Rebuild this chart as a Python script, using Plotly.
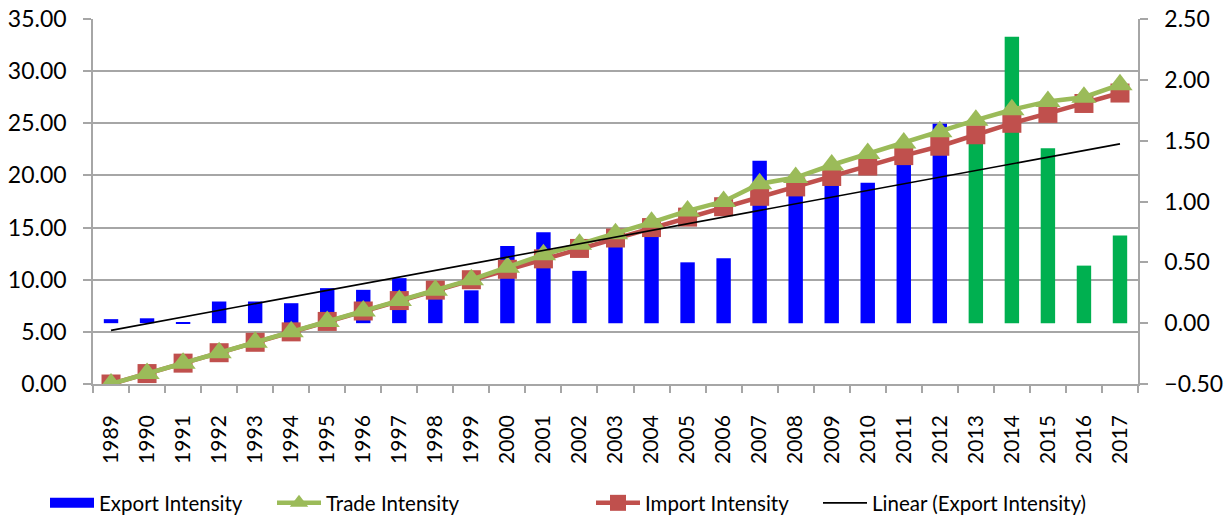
import numpy as np
import plotly.graph_objects as go

# ---- data -------------------------------------------------------------
years = [str(y) for y in range(1989, 2018)]

export_intensity = [0.033, 0.040, 0.005, 0.178, 0.178, 0.164, 0.288, 0.274, 0.370,
                    0.220, 0.270, 0.635, 0.748, 0.430, 0.650, 0.720, 0.500, 0.534,
                    1.334, 1.080, 1.150, 1.155, 1.330, 1.640, 1.600, 2.355, 1.438,
                    0.473, 0.720]

trade_intensity = [0.0, 1.0, 2.0, 3.0, 4.0, 5.0, 6.0, 7.0, 8.0, 9.0, 10.0,
                   11.2, 12.4, 13.4, 14.4, 15.5, 16.6, 17.5, 19.2, 19.8, 21.0,
                   22.1, 23.1, 24.2, 25.3, 26.3, 27.1, 27.5, 28.7]

import_intensity = [0.0, 1.0, 2.0, 3.0, 4.0, 5.0, 6.0, 7.0, 8.0, 9.0, 10.0,
                    11.0, 12.0, 13.0, 14.0, 15.0, 16.0, 17.0, 18.0, 18.9, 19.9,
                    20.9, 21.9, 22.8, 23.9, 25.0, 25.95, 26.9, 27.9]

left_ticks = [0, 5, 10, 15, 20, 25, 30, 35]
right_ticks = [-0.5, 0.0, 0.5, 1.0, 1.5, 2.0, 2.5]

# ---- styles -----------------------------------------------------------
BLUE = "#0000FF"
GREEN_BAR = "#00B050"
TRADE_GREEN = "#9BBB59"
IMPORT_RED = "#C0504D"
GRID = "#A6A6A6"
FAMILY = "Lato, 'Open Sans', sans-serif"
TICK_FONT = dict(family=FAMILY, size=23, color="#000000")
XTICK_FONT = dict(family=FAMILY, size=21, color="#000000")
LEGEND_FONT = dict(family=FAMILY, size=20.5, color="#000000")

W, H = 1228, 519

# bars after 2012 are highlighted in green
bar_colors = [BLUE if int(y) <= 2012 else GREEN_BAR for y in years]

# least-squares linear trend of the export series
idx = np.arange(len(years))
slope, intercept = np.polyfit(idx, export_intensity, 1)
export_trend = slope * idx + intercept

fig = go.Figure()

# legend swatch for the export bars (drawn as a thick line segment)
fig.add_trace(go.Scatter(
    x=[None], y=[None], mode="lines", yaxis="y",
    line=dict(color=BLUE, width=13),
    name="Export Intensity", legend="legend", hoverinfo="skip",
))

fig.add_trace(go.Bar(
    x=years, y=export_intensity, yaxis="y2",
    marker=dict(color=bar_colors, line=dict(width=0)),
    name="Export Intensity", showlegend=False,
))

fig.add_trace(go.Scatter(
    x=years, y=import_intensity, yaxis="y3", mode="lines+markers",
    line=dict(color=IMPORT_RED, width=4.5),
    marker=dict(symbol="square", size=19, color=IMPORT_RED),
    name="Import Intensity", legend="legend3",
))

fig.add_trace(go.Scatter(
    x=years, y=trade_intensity, yaxis="y3", mode="lines+markers",
    line=dict(color=TRADE_GREEN, width=4.5),
    marker=dict(symbol="triangle-up", size=22, color=TRADE_GREEN),
    name="Trade Intensity", legend="legend2",
))

fig.add_trace(go.Scatter(
    x=years, y=export_trend, yaxis="y4", mode="lines",
    line=dict(color="#000000", width=1.6),
    name="Linear (Export Intensity)", legend="legend4",
))

legend_common = dict(orientation="h", xref="container", yref="container",
                     y=(H - 503) / H, xanchor="left", yanchor="middle",
                     itemwidth=44,
                     font=LEGEND_FONT, bgcolor="rgba(0,0,0,0)", borderwidth=0)

fig.update_layout(
    width=W, height=H, autosize=False,
    margin=dict(l=93, r=90, t=19, b=135, autoexpand=False),
    paper_bgcolor="white", plot_bgcolor="white",
    font=LEGEND_FONT,
    bargap=0.6,
    xaxis=dict(
        type="category", range=[-0.5, len(years) - 0.5], automargin=False,
        showline=True, linecolor=GRID, linewidth=1.5,
        ticks="outside", ticklen=7, tickcolor=GRID, tickwidth=1.5,
        tickson="boundaries", tickangle=-90, ticklabelstandoff=21,
        showgrid=False, tickfont=XTICK_FONT,
    ),
    yaxis=dict(
        range=[0, 35], tickvals=left_ticks, tickformat=".2f", automargin=False,
        showgrid=True, gridcolor=GRID, gridwidth=1.5,
        showline=True, linecolor=GRID, linewidth=1.5,
        ticks="outside", ticklen=8, tickcolor=GRID, tickwidth=1.5,
        zeroline=False, ticklabelstandoff=12, tickfont=TICK_FONT,
    ),
    yaxis2=dict(
        overlaying="y", side="right", automargin=False,
        range=[-0.5, 2.5], tickvals=right_ticks, tickformat=".2f",
        showgrid=False, showline=True, linecolor=GRID, linewidth=1.5,
        ticks="outside", ticklen=8, tickcolor=GRID, tickwidth=1.5,
        zeroline=False, ticklabelstandoff=12, tickfont=TICK_FONT,
    ),
    yaxis3=dict(overlaying="y", range=[0, 35], visible=False),
    yaxis4=dict(overlaying="y", range=[-0.5, 2.5], visible=False),
    legend=dict(x=45 / W, **legend_common),
    legend2=dict(x=272 / W, **legend_common),
    legend3=dict(x=591 / W, **legend_common),
    legend4=dict(x=818 / W, **legend_common),
)

fig.write_html("out.html")
